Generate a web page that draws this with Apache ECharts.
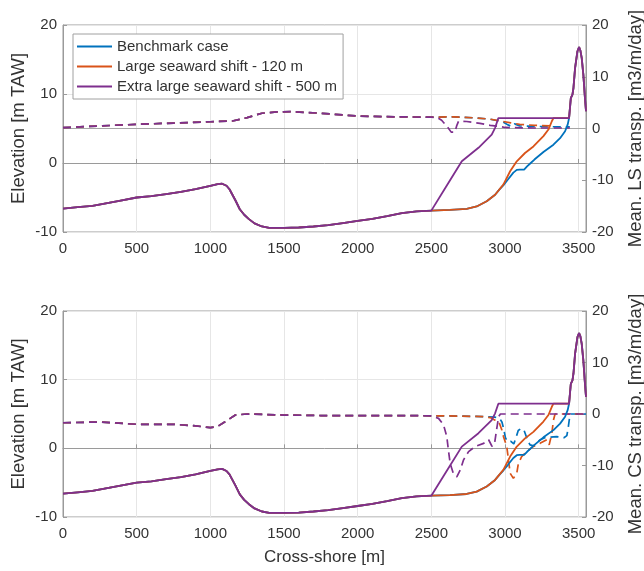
<!DOCTYPE html>
<html><head><meta charset="utf-8">
<script src="https://cdn.jsdelivr.net/npm/echarts@6/dist/echarts.min.js"></script>
<style>html,body{margin:0;padding:0;background:#fff}#c{width:644px;height:571px}</style>
</head><body><div id="c"></div>
<script>
// ---------- Elevation profiles [m TAW] ----------
const offshoreX = [0, 100, 200, 300, 400, 500, 600, 700, 800, 900, 1000, 1050, 1080, 1110, 1130, 1150, 1170, 1200, 1230, 1260, 1300, 1350, 1400, 1500, 1600, 1700, 1800, 1900, 2000, 2100, 2200, 2300, 2400, 2500];
const offshoreZ = [-6.6, -6.4, -6.2, -5.8, -5.4, -5.0, -4.8, -4.5, -4.2, -3.8, -3.3, -3.05, -3.0, -3.3, -3.8, -4.6, -5.4, -6.7, -7.5, -8.1, -8.75, -9.2, -9.4, -9.4, -9.35, -9.2, -9.0, -8.7, -8.4, -8.1, -7.7, -7.25, -7.0, -6.9];
const benchX = [2627, 2740, 2808, 2876, 2933, 2960, 2990, 3020, 3057, 3080, 3100, 3130, 3150, 3175, 3200, 3261, 3329, 3374, 3408, 3426, 3435];
const benchZ = [-6.8, -6.65, -6.3, -5.55, -4.6, -3.9, -3.2, -2.4, -1.4, -1.0, -0.95, -0.95, -0.5, 0.0, 0.5, 1.6, 2.65, 3.6, 4.6, 5.6, 6.5];
const largeX = [2627, 2740, 2808, 2876, 2933, 2990, 3035, 3080, 3136, 3193, 3261, 3295, 3318, 3329, 3435];
const largeZ = [-6.8, -6.65, -6.3, -5.55, -4.6, -3.1, -1.2, 0.25, 1.45, 2.4, 3.9, 4.85, 6.05, 6.5, 6.5];
const extraX = [2600, 2707, 2820, 2910, 2933, 2955, 3435];
const extraZ = [-3.45, 0.25, 2.2, 4.1, 5.1, 6.5, 6.5];
const duneX = [3447, 3458, 3465, 3476, 3492, 3503, 3512, 3521, 3532, 3543, 3550];
const duneZ = [9.4, 9.9, 10.9, 13.8, 16.2, 16.8, 16.3, 15.2, 12.8, 9.4, 7.5];

// ---------- Mean longshore transport [m3/m/day] ----------
const lsCommonX = [0, 250, 500, 750, 1000, 1150, 1250, 1350, 1450, 1550, 1650, 1750, 2000, 2250, 2500];
const lsCommonV = [0.15, 0.5, 0.8, 1.05, 1.3, 1.45, 2.1, 2.95, 3.2, 3.25, 3.1, 2.95, 2.4, 2.25, 2.2];
const lsBenchX = [2650, 2800, 2900, 2950, 2990, 3020, 3045, 3065, 3100, 3200, 3300, 3440];
const lsBenchV = [2.25, 2.05, 1.8, 1.5, 1.2, 0.7, 0.4, 0.9, 0.5, 0.4, 0.35, 0.3];
const lsLargeX = [2650, 2800, 2900, 2980, 3040, 3100, 3200, 3330];
const lsLargeV = [2.25, 2.05, 1.8, 1.4, 1.1, 0.8, 0.6, 0.5];
const lsExtraX = [2540, 2570, 2610, 2635, 2660, 2672, 2685, 2740, 2830, 2900, 2955, 3000, 3200, 3440];
const lsExtraV = [2.1, 1.6, 0.3, -0.7, -0.7, 0.5, 1.4, 1.35, 1.0, 0.6, 0.45, 0.2, 0.1, 0.1];

// ---------- Mean cross-shore transport [m3/m/day] ----------
const csCommonX = [0, 250, 500, 750, 900, 1000, 1050, 1100, 1170, 1250, 1500, 1750, 2000, 2250, 2500];
const csCommonV = [-1.7, -1.55, -2.0, -2.0, -2.3, -2.66, -2.4, -1.5, -0.2, 0.0, -0.2, -0.3, -0.3, -0.3, -0.35];
const csBenchX = [2700, 2850, 2930, 2965, 2980, 2992, 3003, 3015, 3040, 3060, 3075, 3090, 3110, 3130, 3150, 3170, 3195, 3215, 3240, 3270, 3300, 3350, 3400, 3420, 3430, 3438, 3445, 3550];
const csBenchV = [-0.4, -0.5, -0.6, -0.9, -1.6, -3.0, -4.6, -5.3, -5.3, -5.8, -4.6, -3.2, -2.8, -3.2, -4.8, -6.0, -6.2, -5.5, -5.0, -4.6, -4.5, -4.4, -4.6, -4.2, -2.5, -0.8, 0.0, 0.0];
const csLargeX = [2700, 2850, 2900, 2933, 2957, 2979, 2990, 3012, 3024, 3035, 3057, 3080, 3091, 3113, 3147, 3193, 3238, 3284, 3300, 3310, 3318, 3329, 3340, 3550];
const csLargeV = [-0.4, -0.5, -0.7, -1.2, -1.4, -3.1, -4.4, -6.3, -8.9, -11.5, -12.5, -11.5, -9.6, -8.3, -7.3, -6.3, -5.7, -5.0, -6.0, -6.2, -3.8, -1.2, 0.0, 0.0];
const csExtraX = [2549, 2583, 2605, 2616, 2628, 2650, 2673, 2696, 2719, 2753, 2798, 2855, 2889, 2912, 2930, 2946, 2957, 2969, 3550];
const csExtraV = [-0.85, -2.1, -4.4, -7.0, -9.6, -11.6, -12.2, -10.9, -8.9, -7.3, -6.3, -5.7, -5.0, -6.3, -5.6, -2.5, -0.5, 0.0, 0.0];

// ---------- Labels ----------
const caseNames = ['Benchmark case', 'Large seaward shift - 120 m', 'Extra large seaward shift - 500 m'];
const caseColors = ['#0072BD', '#D95319', '#7E2F8E'];
const xTitle = 'Cross-shore [m]';
const yLeftTitle = 'Elevation [m TAW]';
const yRightTitles = ['Mean. LS transp. [m3/m/day]', 'Mean. CS transp. [m3/m/day]'];

function pairs(xs, ys) { return xs.map((x, i) => [x, ys[i]]); }
function join() { let out = []; for (let i = 0; i < arguments.length; i += 2) out = out.concat(pairs(arguments[i], arguments[i + 1])); return out; }

const profiles = [
  join(offshoreX, offshoreZ, benchX, benchZ, duneX, duneZ),
  join(offshoreX, offshoreZ, largeX, largeZ, duneX, duneZ),
  join(offshoreX, offshoreZ, extraX, extraZ, duneX, duneZ)
];
const lsLines = [
  join(lsCommonX, lsCommonV, lsBenchX, lsBenchV),
  join(lsCommonX, lsCommonV, lsLargeX, lsLargeV),
  join(lsCommonX, lsCommonV, lsExtraX, lsExtraV)
];
const csLines = [
  join(csCommonX, csCommonV, csBenchX, csBenchV),
  join(csCommonX, csCommonV, csLargeX, csLargeV),
  join(csCommonX, csCommonV, csExtraX, csExtraV)
];

const FONT = "'Liberation Sans', Arial, sans-serif";
const TXT = '#333';
const AX = '#9a9a9a';
const GRIDC = '#e6e6e6';
const plain = v => String(v);

function xAx(gi, withName) {
  return {
    type: 'value', gridIndex: gi, min: 0, max: 3550, interval: 500,
    name: withName ? xTitle : '', nameLocation: 'middle', nameGap: 32, nameMoveOverlap: false,
    nameTextStyle: { fontSize: 17, color: TXT, fontFamily: FONT },
    axisLine: { lineStyle: { color: AX } },
    axisTick: { inside: true, length: 4, lineStyle: { color: AX } },
    axisLabel: { fontSize: 15, color: TXT, fontFamily: FONT, margin: 9, showMaxLabel: false, formatter: plain },
    splitLine: { show: true, lineStyle: { color: GRIDC } }
  };
}
function yLeft(gi) {
  return {
    type: 'value', gridIndex: gi, min: -10, max: 20, interval: 10, position: 'left',
    name: yLeftTitle, nameLocation: 'middle', nameRotate: 90, nameGap: 35, nameMoveOverlap: false,
    nameTextStyle: { fontSize: 18.5, color: TXT, fontFamily: FONT },
    axisLine: { show: true, lineStyle: { color: AX } },
    axisTick: { show: true, inside: true, length: 4, lineStyle: { color: AX } },
    axisLabel: { fontSize: 15, color: TXT, fontFamily: FONT, margin: 6, formatter: plain },
    splitLine: { show: true, lineStyle: { color: GRIDC } }
  };
}
function yRight(gi, title) {
  return {
    type: 'value', gridIndex: gi, min: -20, max: 20, interval: 10, position: 'right',
    name: title, nameLocation: 'middle', nameRotate: 90, nameGap: 40, nameMoveOverlap: false,
    nameTextStyle: { fontSize: 18.5, color: TXT, fontFamily: FONT },
    axisLine: { show: true, lineStyle: { color: AX } },
    axisTick: { show: true, inside: true, length: 4, lineStyle: { color: AX } },
    axisLabel: { fontSize: 15, color: TXT, fontFamily: FONT, margin: 6, formatter: plain },
    splitLine: { show: false }
  };
}

const series = [];
// dashed transport lines
[lsLines, csLines].forEach((set, p) => {
  set.forEach((data, k) => {
    const s = {
      name: caseNames[k] + (p === 0 ? ' LS' : ' CS'), type: 'line', data: data,
      xAxisIndex: p, yAxisIndex: p * 2 + 1, showSymbol: false, symbol: 'none',
      color: caseColors[k], lineStyle: { width: 1.7, type: [8, 5], color: caseColors[k] },
      z: 3 + k
    };
    if (p === 0 && k === 0) {
      s.markLine = { silent: true, symbol: ['none', 'none'], label: { show: false },
        lineStyle: { color: '#a6a6a6', type: 'solid', width: 1.2 }, data: [{ yAxis: 0 }], z: 2 };
    }
    series.push(s);
  });
});
// solid elevation lines
[0, 1].forEach(p => {
  profiles.forEach((data, k) => {
    series.push({
      name: caseNames[k], type: 'line', data: data,
      xAxisIndex: p, yAxisIndex: p * 2, showSymbol: false, symbol: 'none',
      color: caseColors[k], lineStyle: { width: 1.8, color: caseColors[k] },
      z: 6 + k
    });
  });
});

const chart = echarts.init(document.getElementById('c'), null, { renderer: 'canvas' });
chart.setOption({
  animation: false,
  backgroundColor: '#fff',
  textStyle: { fontFamily: FONT },
  grid: [
    { left: 63, right: 58, top: 25, height: 207, show: true, borderColor: AX, borderWidth: 1, backgroundColor: 'transparent', containLabel: false, outerBoundsMode: 'none' },
    { left: 63, right: 58, top: 311, height: 206, show: true, borderColor: AX, borderWidth: 1, backgroundColor: 'transparent', containLabel: false, outerBoundsMode: 'none' }
  ],
  legend: {
    data: caseNames, left: 73, top: 34, orient: 'vertical',
    backgroundColor: '#fff', borderColor: '#a0a0a0', borderWidth: 1,
    padding: [5, 6, 5, 4], itemGap: 5, itemWidth: 35, itemHeight: 2, itemTextGap: 4,
    icon: 'rect', selectedMode: false,
    textStyle: { fontSize: 15, color: TXT, fontFamily: FONT, lineHeight: 15 }
  },
  xAxis: [xAx(0, false), xAx(1, true)],
  yAxis: [yLeft(0), yRight(0, yRightTitles[0]), yLeft(1), yRight(1, yRightTitles[1])],
  series: series
});
</script>
</body></html>
